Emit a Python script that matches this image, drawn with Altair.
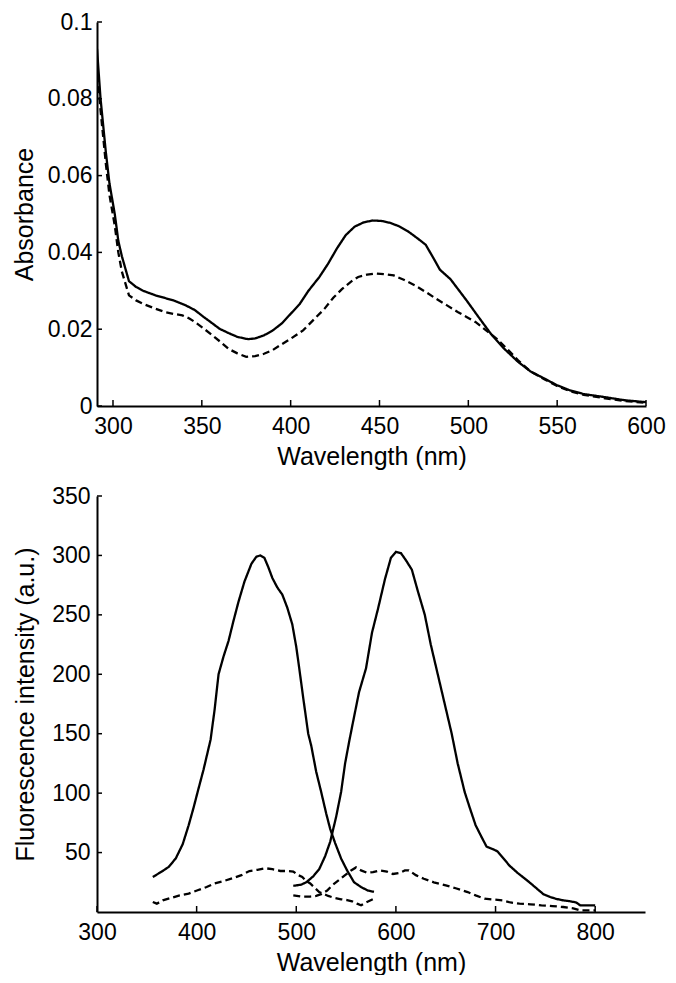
import altair as alt
import pandas as pd

# ---------------- Absorbance panel data ----------------
abs_solid_wl = [291, 293, 296, 298, 301, 303, 305, 309, 313, 317, 324, 334, 341, 346, 351, 356, 360, 365, 370, 376,
                380, 385, 390, 395, 400, 405, 410, 416, 421, 426, 431, 436, 441, 446, 451, 456, 461, 466, 471, 476,
                481, 484, 490, 499, 506, 513, 520, 528, 535, 543, 550, 557, 565, 577, 588, 600]
abs_solid = [0.093, 0.080, 0.066, 0.058, 0.050, 0.043, 0.039, 0.0325, 0.031, 0.030, 0.0288, 0.0275, 0.0262, 0.025,
             0.0232, 0.0215, 0.0201, 0.019, 0.0180, 0.0174, 0.0176, 0.0184, 0.0197, 0.0215, 0.024, 0.0265, 0.030,
             0.0335, 0.037, 0.041, 0.0445, 0.0467, 0.0478, 0.0483, 0.0482, 0.0477, 0.0468, 0.0455, 0.0438, 0.042,
             0.038, 0.0355, 0.033, 0.0275, 0.023, 0.0186, 0.0150, 0.0115, 0.0090, 0.0071, 0.0054, 0.0041, 0.0031,
             0.0023, 0.0015, 0.0010]

abs_dash_wl = [291, 293, 296, 298, 301, 303, 305, 309, 313, 317, 323, 329, 334, 339, 343, 346, 351, 356, 361, 365,
               370, 375, 380, 385, 390, 394, 400, 407, 413, 419, 424, 429, 434, 438, 443, 448, 453, 458, 464, 470,
               476, 482, 488, 494, 499, 504, 510, 516, 522, 528, 535, 543, 550, 557, 565, 577, 588, 600]
abs_dash = [0.089, 0.077, 0.063, 0.055, 0.047, 0.040, 0.035, 0.0288, 0.0275, 0.0266, 0.0255, 0.0245, 0.024, 0.0236,
            0.0228, 0.0219, 0.0202, 0.0184, 0.0165, 0.0149, 0.0137, 0.0128, 0.0130, 0.0136, 0.0146, 0.0158, 0.0175,
            0.0197, 0.0225, 0.0253, 0.0282, 0.0305, 0.0324, 0.0336, 0.0342, 0.0345, 0.0343, 0.0340, 0.0328, 0.0314,
            0.0297, 0.0279, 0.0262, 0.0245, 0.0232, 0.0219, 0.0197, 0.0175, 0.0148, 0.0119, 0.0090, 0.0069, 0.0052,
            0.0039, 0.0029, 0.0020, 0.0013, 0.0008]

# ---------------- Fluorescence panel data ----------------
ex_solid_wl = [356, 365, 372, 379, 386, 392, 397, 401, 407, 414, 418, 422, 427, 432, 437, 442, 448, 455, 460, 464,
               468, 472, 476, 481, 486, 491, 496, 500, 503, 507, 512, 515, 520, 525, 530, 534, 539, 545, 551, 558,
               565, 572, 578]
ex_solid = [29.5, 34, 38, 45, 57, 73, 88, 101, 120, 145, 170, 200, 215, 228, 245, 261, 278, 293, 299, 300,
            298, 290, 281, 273, 267, 256, 242, 223, 205, 180, 150, 140, 118, 101, 83, 70, 58, 45, 35, 25,
            21, 18, 17]

em_solid_wl = [497, 505, 510, 517, 523, 529, 534, 540, 545, 549, 553, 557, 563, 570, 576, 582, 589, 595, 600, 605,
               610, 616, 622, 629, 635, 642, 649, 656, 662, 669, 674, 680, 686, 691, 697, 702, 708, 714, 722, 728,
               734, 741, 748, 755, 761, 768, 775, 781, 785, 800]
em_solid = [22, 23, 25, 30, 36, 47, 59, 80, 101, 125, 143, 160, 185, 205, 235, 255, 280, 298, 303, 302,
            296, 288, 270, 250, 225, 200, 175, 150, 125, 101, 88, 73, 63, 55, 53, 51, 45, 39, 33, 29,
            25, 20, 15, 12.6, 11, 9.8, 9, 8, 5.6, 5.6]

ex_dash_wl = [356, 360, 366, 375, 383, 392, 401, 410, 418, 427, 436, 445, 453, 461, 469, 476, 484, 490, 497, 502,
              506, 510, 514, 519, 523, 528, 532, 538, 545, 551, 556, 561, 565, 570, 578]
ex_dash = [8.4, 7, 9.8, 12, 14, 15.5, 18.3, 21, 24, 26, 28.4, 31, 34.5, 35.5, 36.8, 36, 34.5, 34.5, 34, 31,
           29.5, 26, 24, 20, 16.8, 15, 13.5, 12, 10.7, 10, 9, 7, 5.6, 8, 11.2]

em_dash_wl = [497, 505, 514, 520, 525, 531, 536, 543, 549, 555, 560, 565, 571, 577, 584, 591, 597, 604, 609, 613,
              620, 628, 638, 650, 660, 672, 680, 689, 698, 707, 715, 724, 735, 746, 757, 768, 778, 785, 800]
em_dash = [14, 13, 13, 13.5, 15, 18, 22.4, 27, 31, 35, 37.5, 35, 33, 33.5, 35, 34, 32, 33, 35, 35,
           31, 28, 25, 22.4, 20, 16.8, 14, 11.2, 10.5, 9.8, 8, 7, 6.5, 5.6, 5, 4.2, 3, 1.4, 1.4]

abs_x_ticks = [300, 350, 400, 450, 500, 550, 600]
abs_y_ticks = [0, 0.02, 0.04, 0.06, 0.08, 0.1]
fl_x_ticks = [300, 400, 500, 600, 700, 800]
fl_y_ticks = [50, 100, 150, 200, 250, 300, 350]


def frame(pairs):
    rows = []
    for name, style, xs, ys in pairs:
        for a, b in zip(xs, ys):
            rows.append({"wl": a, "val": b, "series": name, "style": style})
    return pd.DataFrame(rows)


abs_df = frame([("abs_solid", "solid", abs_solid_wl, abs_solid),
                ("abs_dash", "dashed", abs_dash_wl, abs_dash)])
fl_df = frame([("ex_solid", "solid", ex_solid_wl, ex_solid),
               ("em_solid", "solid", em_solid_wl, em_solid),
               ("ex_dash", "dashed", ex_dash_wl, ex_dash),
               ("em_dash", "dashed", em_dash_wl, em_dash)])

FONT = "Liberation Sans"


def panel(df, xdom, xticks, ydom, yticks, ytitle, w, h, yfmt, label_pad_y, title_pad_y):
    xs = alt.Scale(domain=xdom, nice=False, zero=False)
    ys = alt.Scale(domain=ydom, nice=False, zero=False)
    xax = alt.Axis(values=xticks, title="Wavelength (nm)", ticks=False, labelPadding=9,
                   titlePadding=6, format="d", labelFlush=False)
    yax = alt.Axis(values=yticks, title=ytitle, ticks=False, labelPadding=label_pad_y,
                   titlePadding=title_pad_y, format=yfmt, labelFlush=False)
    lines = alt.Chart(df).mark_line(strokeWidth=2.3, color="black", clip=True).encode(
        x=alt.X("wl:Q", scale=xs, axis=xax),
        y=alt.Y("val:Q", scale=ys, axis=yax),
        detail="series:N",
        strokeDash=alt.StrokeDash("style:N",
                                  scale=alt.Scale(domain=["solid", "dashed"], range=[[1, 0], [7, 4]]),
                                  legend=None),
    )
    xt = alt.Chart(pd.DataFrame({"wl": xticks})).mark_rule(color="black", strokeWidth=1.5).encode(
        x=alt.X("wl:Q", scale=xs, axis=xax),
        y=alt.value(h), y2=alt.value(h - 6))
    yt = alt.Chart(pd.DataFrame({"val": yticks})).mark_rule(color="black", strokeWidth=1.5).encode(
        y=alt.Y("val:Q", scale=ys, axis=yax),
        x=alt.value(0), x2=alt.value(5))
    return alt.layer(lines, xt, yt).properties(width=w, height=h)


top = panel(abs_df, [291, 600], abs_x_ticks, [0, 0.1], abs_y_ticks, "Absorbance", 549, 384, ".2~f", 5, 10)
bottom = panel(fl_df, [300, 850], fl_x_ticks, [0, 350], fl_y_ticks, "Fluorescence intensity (a.u.)", 548, 416,
               "d", 7, 13)

chart = alt.vconcat(top, bottom, spacing=90, bounds="flush").properties(
    padding={"left": 4, "top": 3, "right": 0, "bottom": 0}
).configure_view(stroke=None).configure_axis(
    domainColor="black", domainWidth=2, labelColor="black", titleColor="black",
    labelFont=FONT, titleFont=FONT, labelFontSize=23, titleFontSize=25, titleFontWeight="normal",
    grid=False,
)

chart.save("out.html", embed_options={"renderer": "svg", "actions": False})
